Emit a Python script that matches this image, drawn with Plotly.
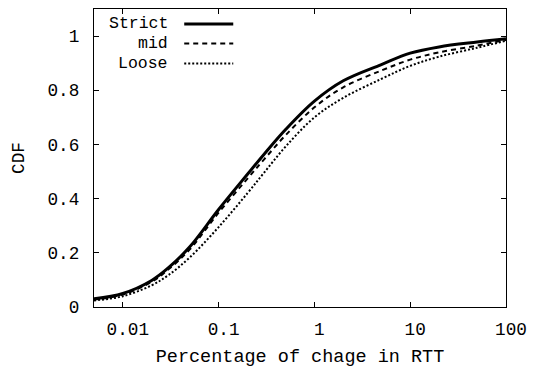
import numpy as np
import plotly.graph_objects as go

# Data
x_vals = [0.005, 0.01, 0.02, 0.03, 0.05, 0.1, 0.2, 0.3, 0.5, 1, 2, 5, 10, 20, 50, 100]
strict = [0.030, 0.050, 0.098, 0.145, 0.222, 0.360, 0.490, 0.565, 0.655, 0.760, 0.835, 0.895, 0.937, 0.960, 0.978, 0.990]
mid    = [0.027, 0.046, 0.093, 0.139, 0.213, 0.348, 0.474, 0.546, 0.634, 0.737, 0.811, 0.873, 0.913, 0.940, 0.965, 0.986]
loose  = [0.024, 0.040, 0.080, 0.118, 0.183, 0.295, 0.420, 0.497, 0.592, 0.700, 0.772, 0.842, 0.890, 0.924, 0.957, 0.983]

series_names = ["Strict", "mid", "Loose"]
series_vals = [strict, mid, loose]
series_dash = ["solid", "5px,4px", "2px,2px"]
series_width = [3, 2, 2]

x_tickvals = [0.01, 0.1, 1, 10, 100]
x_ticktext = ["0.01", "0.1", "1", "10", "100"]
y_tickvals = [0, 0.2, 0.4, 0.6, 0.8, 1]
y_ticktext = ["0", "0.2", "0.4", "0.6", "0.8", "1"]

FONT = "Liberation Mono, Courier New, monospace"
FS = 17.7
FS_TITLE = 18.5
FS_LEGEND = 16.5

fig = go.Figure()
for name, vals, dash, w in zip(series_names, series_vals, series_dash, series_width):
    fig.add_trace(go.Scatter(
        x=x_vals, y=vals, mode="lines", name=name,
        line=dict(color="black", width=w, dash=dash, shape="spline", smoothing=1.0),
        showlegend=False,
    ))

# gnuplot-style legend: right-aligned text with line sample on the right
leg_text_x = 0.181
leg_x0, leg_x1 = 0.219, 0.338
leg_ys = [0.950, 0.884, 0.817]
for name, dash, w, ly in zip(series_names, series_dash, series_width, leg_ys):
    fig.add_annotation(x=leg_text_x, y=ly, xref="paper", yref="paper", text=name,
                       showarrow=False, xanchor="right", yanchor="middle", borderpad=0,
                       font=dict(family=FONT, size=FS_LEGEND, color="black"))
    fig.add_shape(type="line", xref="paper", yref="paper", x0=leg_x0, x1=leg_x1, y0=ly, y1=ly,
                  line=dict(color="black", width=w, dash=dash))

axis_common = dict(
    showline=True, linecolor="black", linewidth=1.3, mirror="ticks",
    ticks="inside", ticklen=5, tickwidth=1, tickcolor="black",
    showgrid=False, zeroline=False,
    tickfont=dict(family=FONT, size=FS, color="black"),
)

fig.update_xaxes(
    type="log", range=[np.log10(0.005), np.log10(100)],
    tickvals=x_tickvals, ticktext=x_ticktext,
    ticklabelshift=5, ticklabelstandoff=6,
    title=dict(text="Percentage of chage in RTT", font=dict(family=FONT, size=FS_TITLE, color="black"), standoff=9),
    **axis_common,
)
fig.update_yaxes(
    range=[0, 1.1], tickvals=y_tickvals, ticktext=y_ticktext,
    ticklabelstandoff=10,
    title=dict(text="CDF", font=dict(family=FONT, size=FS, color="black"), standoff=18),
    **axis_common,
)

fig.update_layout(
    width=535, height=370,
    margin=dict(l=94, r=21, t=8, b=61),
    plot_bgcolor="white", paper_bgcolor="white",
)

fig.write_html("out.html")
